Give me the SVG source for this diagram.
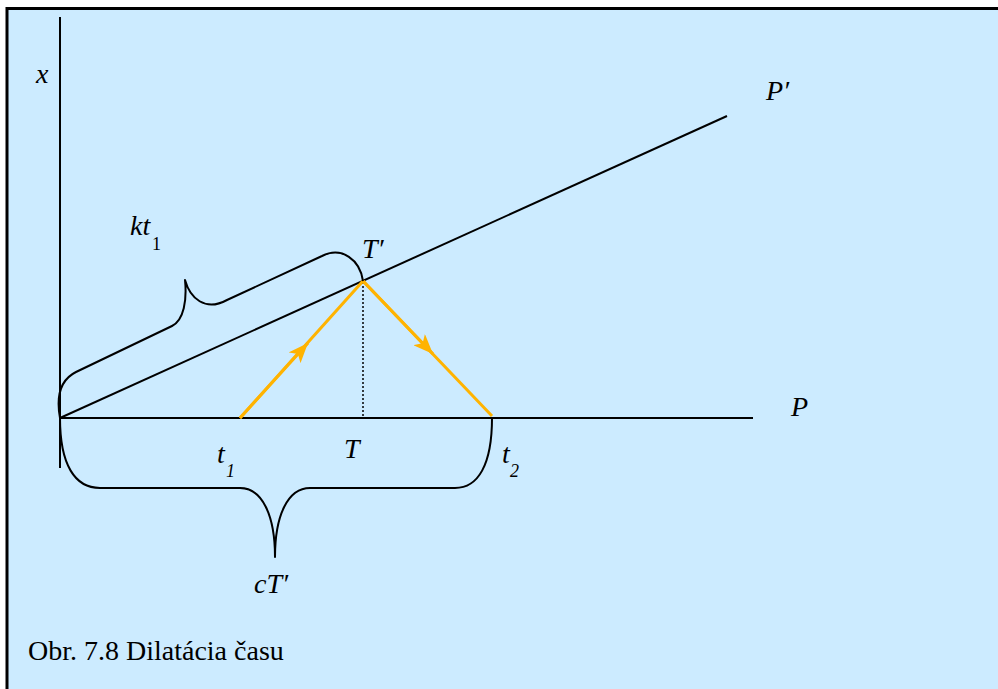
<svg xmlns="http://www.w3.org/2000/svg" width="998" height="689" viewBox="0 0 998 689">
<defs>
<marker id="ah" viewBox="0 0 20 16" refX="20" refY="8" markerWidth="20" markerHeight="16" markerUnits="userSpaceOnUse" orient="auto">
<path d="M0,0 L20,8 L0,16 L5,8 Z" fill="#FFB300"/>
</marker>
</defs>
<rect x="0" y="0" width="998" height="689" fill="#fff"/>
<rect x="7" y="8.5" width="1000" height="700" fill="#CCEBFF" stroke="#000" stroke-width="3"/>
<g id="connectors" fill="none">
<g stroke="#000" stroke-width="2">
<line x1="60" y1="17" x2="60" y2="468"/>
<line x1="60" y1="418" x2="753" y2="418"/>
<line x1="60" y1="418" x2="727" y2="116"/>
</g>
<line x1="363" y1="282" x2="363" y2="417" stroke="#000" stroke-width="1.5" stroke-dasharray="2,2"/>
<g stroke="#FFB300" stroke-width="3">
<path d="M240,418 L363,281 L492,416"/>
<path d="M240,418 L308,343" marker-end="url(#ah)"/>
<path d="M363,281 L433,354" marker-end="url(#ah)"/>
</g>
</g>
<g id="brace-kt1" fill="none" stroke="#000" stroke-width="2" stroke-linejoin="round">
<path d="M60,418 C56,396 60,380 76,372 L172,326 C184,320 187,300 185,280 C190,298 205,312 227,300 L322,256 C342,246 360,260 363,281"/>
</g>
<g id="brace-cT" fill="none" stroke="#000" stroke-width="2" stroke-linejoin="round">
<path d="M60,418 C60,465 75,488 100,488 L240,488 C262,488 275,515 275,557 C275,515 288,488 310,488 L455,488 C478,488 492,465 492,418"/>
</g>
<g id="labels" fill="#000">
<text font-family="Liberation Serif" font-style="italic" font-size="28" x="36" y="83">x</text>
<text font-family="Liberation Serif" font-style="italic" font-size="28" x="130" y="235">kt</text>
<text font-family="Liberation Serif" font-size="18" x="152" y="250">1</text>
<text font-family="Liberation Serif" font-style="italic" font-size="28" x="362" y="258">T′</text>
<text font-family="Liberation Serif" font-style="italic" font-size="28" x="766" y="100">P′</text>
<text font-family="Liberation Serif" font-style="italic" font-size="28" x="791" y="416">P</text>
<text font-family="Liberation Serif" font-style="italic" font-size="28" x="344" y="458">T</text>
<text font-family="Liberation Serif" font-style="italic" font-size="28" x="217" y="463">t</text>
<text font-family="Liberation Serif" font-style="italic" font-size="18" x="226" y="477">1</text>
<text font-family="Liberation Serif" font-style="italic" font-size="28" x="502" y="463">t</text>
<text font-family="Liberation Serif" font-style="italic" font-size="18" x="510" y="477">2</text>
<text font-family="Liberation Serif" font-style="italic" font-size="28" x="254" y="593">cT′</text>
<text font-family="Liberation Serif" font-size="28" x="28" y="660">Obr. 7.8 Dilatácia času</text>
</g>
</svg>
